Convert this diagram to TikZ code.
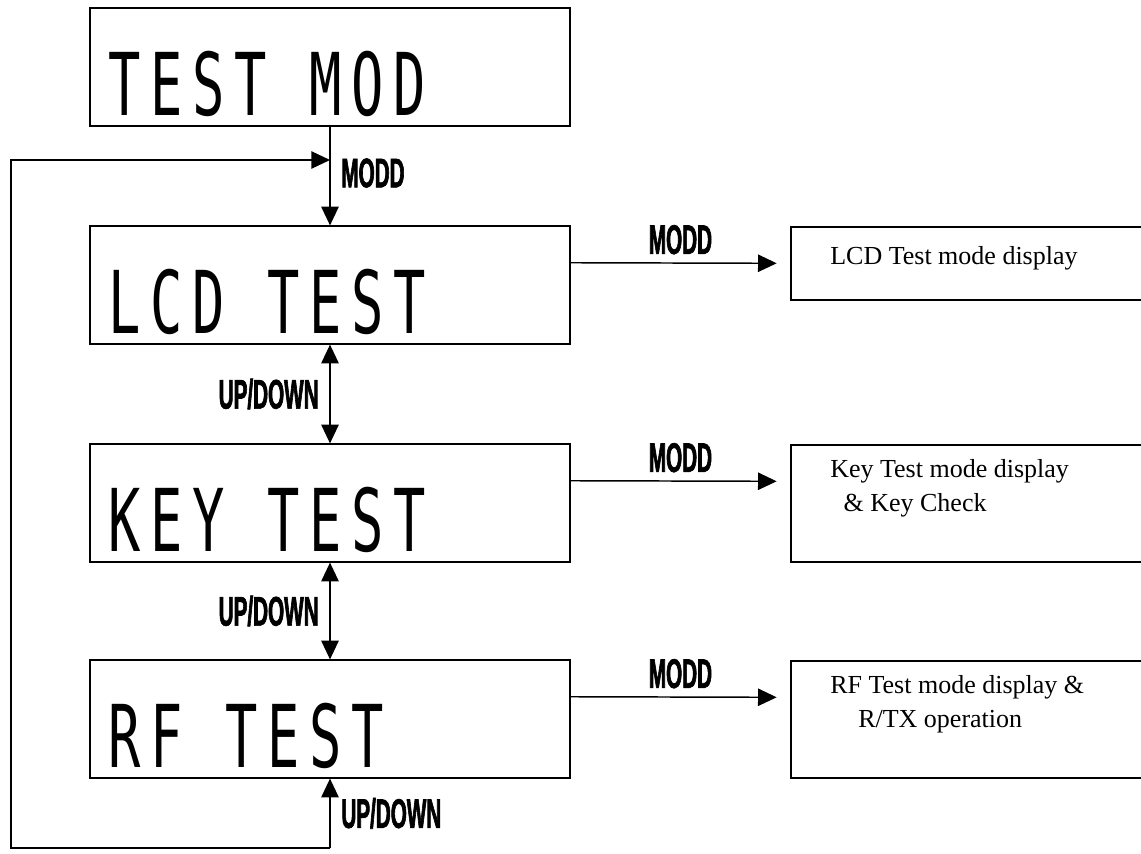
\documentclass[tikz,border=0pt]{standalone}
\usepackage{fontspec}
\setmainfont{Liberation Serif}
\newfontfamily\lcdfont[FakeStretch=0.62, LetterSpace=11.4]{DejaVu Sans Mono}
\newfontfamily\keyfont[FakeStretch=0.5, FakeBold=1.5]{Liberation Sans}
\usetikzlibrary{arrows.meta}

\begin{document}
\begin{tikzpicture}[x=0.75pt, y=-0.75pt,
  lcdbox/.style={draw, line width=1.4pt, minimum width=360pt, minimum height=88pt, inner sep=0pt},
  lcdtext/.style={anchor=base west, inner sep=0pt, font=\lcdfont\fontsize{65}{65}\selectfont},
  infobox/.style={draw, line width=1.4pt, anchor=north west, minimum width=320pt, inner sep=0pt},
  infotext/.style={anchor=north west, inner sep=0pt, align=left, font=\fontsize{19.5}{26}\selectfont},
  keylabel/.style={font=\keyfont\bfseries\fontsize{31}{31}\selectfont, inner sep=0pt},
  flow/.style={-{Triangle[length=14pt, width=13pt]}, line width=1.1pt},
  flowboth/.style={{Triangle[length=14pt, width=13pt]}-{Triangle[length=14pt, width=13pt]}, line width=1.1pt}
]
\clip (0,0) rectangle (1141,853);

% display screens
\node[lcdbox] (testmod) at (330, 67) {};
\node[lcdbox] (lcd) at (330, 285) {};
\node[lcdbox] (key) at (330, 503) {};
\node[lcdbox] (rf) at (330, 719) {};

% readouts on the screens
\node[lcdtext] (testmodtxt) at (108, 115) {TEST MOD};
\node[lcdtext] (lcdtxt) at (108, 333) {LCD TEST};
\node[lcdtext] (keytxt) at (108, 551) {KEY TEST};
\node[lcdtext] (rftxt) at (108, 767) {RF TEST};

% what each mode does
\node[infobox, minimum height=55pt] (lcdinfo) at (790, 226) {};
\node[infobox, minimum height=88pt] (keyinfo) at (790, 444) {};
\node[infobox, minimum height=88pt] (rfinfo) at (790, 660) {};
\node[infotext] (lcdnote) at (830, 246) {LCD Test mode display};
\node[infotext] (keynote) at (830, 459) {Key Test mode display\\\hspace{10pt}\& Key Check};
\node[infotext] (rfnote) at (830, 675) {RF Test mode display \&\\\hspace{21pt}R/TX operation};

% return loop on the left
\coordinate (loopin) at (330, 160);
\coordinate (looptop) at (11, 160);
\coordinate (loopbot) at (11, 848);
\coordinate (loopup) at (330, 848);
\draw[flow] (loopup) -- (loopbot) -- (looptop) -- (loopin);

% down the column
\draw[flow] (testmod.south) -- (lcd.north) node[pos=0.47, right=8pt, keylabel] {MODD};
\draw[flowboth] (lcd.south) -- (key.north) node[midway, left=8pt, keylabel] {UP/DOWN};
\draw[flowboth] (key.south) -- (rf.north) node[midway, left=8pt, keylabel] {UP/DOWN};
\draw[flow] (loopup) -- (rf.south) node[midway, right=8pt, keylabel] {UP/DOWN};

% out to the mode boxes
\draw[flow, shorten >=10pt] ([yshift=-28pt]lcd.north east) -- ([yshift=-28pt]lcdinfo.north west) node[midway, above=6pt, keylabel] {MODD};
\draw[flow, shorten >=10pt] ([yshift=-28pt]key.north east) -- ([yshift=-28pt]keyinfo.north west) node[midway, above=6pt, keylabel] {MODD};
\draw[flow, shorten >=10pt] ([yshift=-28pt]rf.north east) -- ([yshift=-28pt]rfinfo.north west) node[midway, above=6pt, keylabel] {MODD};

\end{tikzpicture}
\end{document}
